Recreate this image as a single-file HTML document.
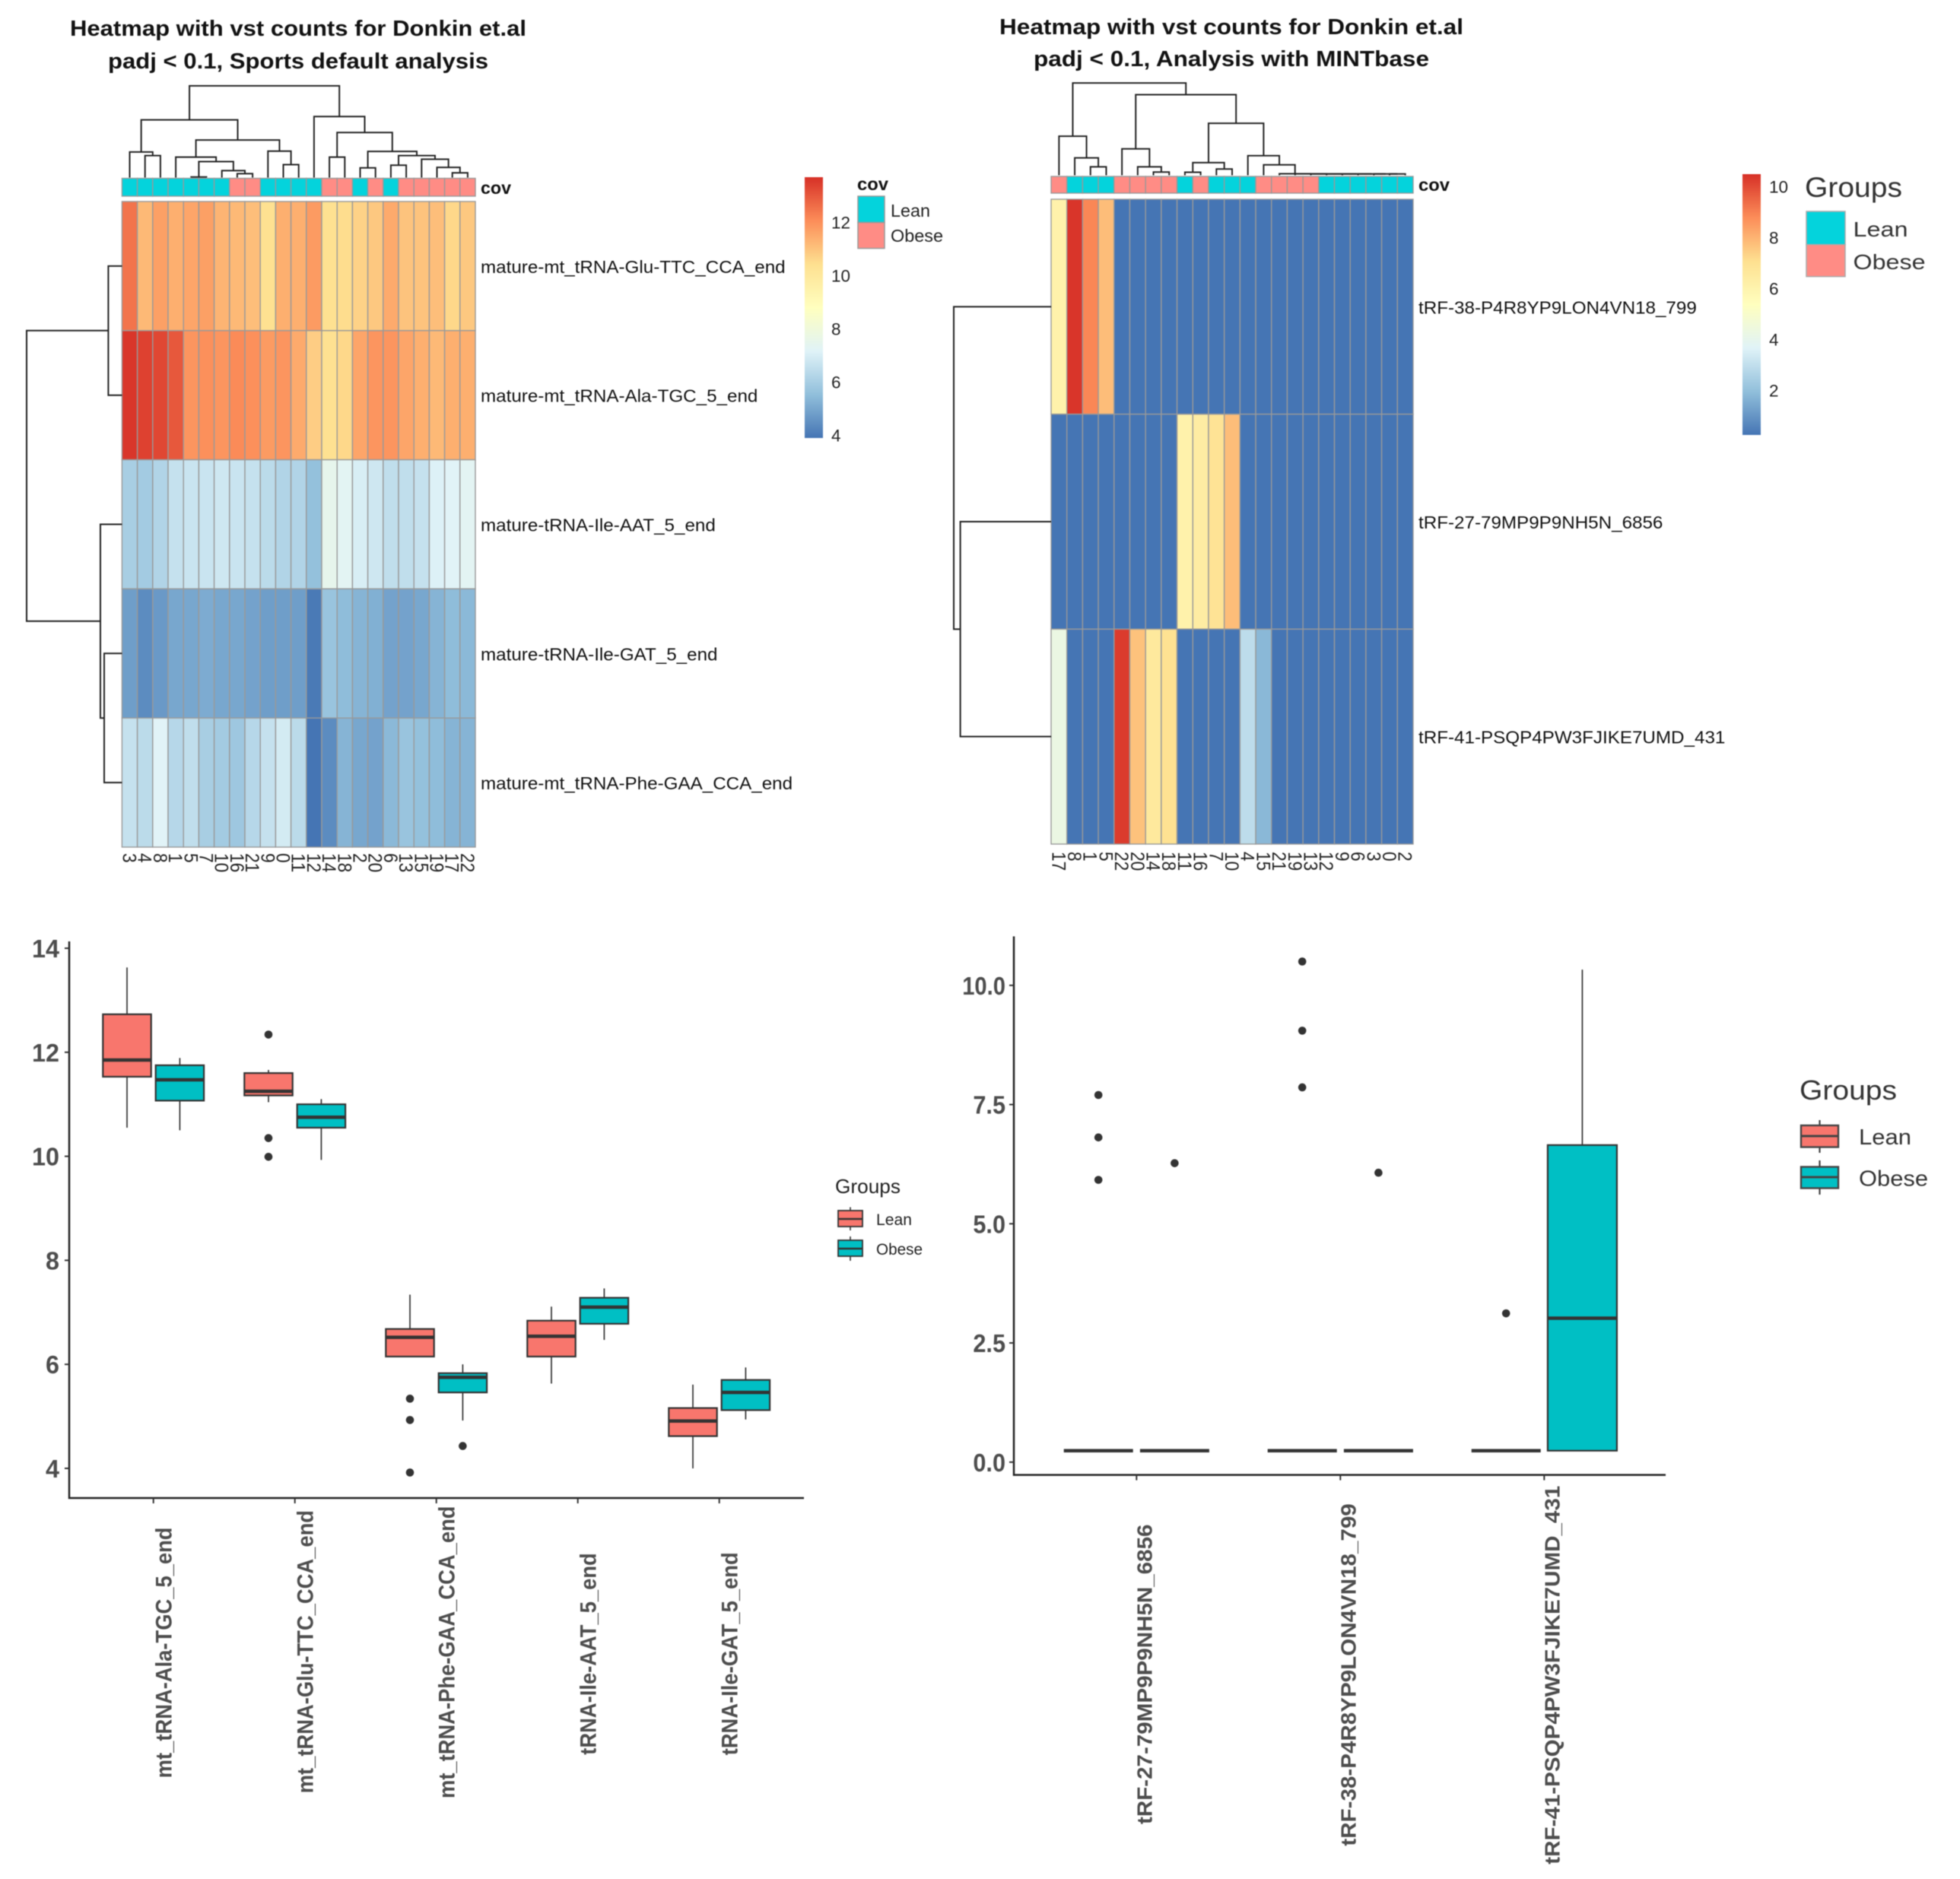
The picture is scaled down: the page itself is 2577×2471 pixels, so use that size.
<!DOCTYPE html>
<html lang="en">
<head>
<meta charset="utf-8">
<title>Heatmaps and boxplots of vst counts for Donkin et.al</title>
<style>
html,body{margin:0;padding:0;background:#fff;}
svg{display:block;font-family:"Liberation Sans",Arial,sans-serif;filter:blur(0.5px);}
</style>
</head>
<body>
<svg id="fig" xmlns="http://www.w3.org/2000/svg" width="2577" height="2471" viewBox="0 0 2577 2471">
<defs>
<linearGradient id="ramp" x1="0" y1="1" x2="0" y2="0"></linearGradient>
</defs>
<rect width="2577" height="2471" fill="#fff"/>

<text x="92" y="47" font-size="29" font-weight="700" fill="#111" textLength="600" lengthAdjust="spacingAndGlyphs">Heatmap with vst counts for Donkin et.al</text>
<text x="142" y="90" font-size="29" font-weight="700" fill="#111" textLength="500" lengthAdjust="spacingAndGlyphs">padj &lt; 0.1, Sports default analysis</text>
<text x="632" y="255" font-size="23" font-weight="700" fill="#111" textLength="40" lengthAdjust="spacingAndGlyphs">cov</text>
<text x="1127" y="250" font-size="23" font-weight="700" fill="#111" textLength="41" lengthAdjust="spacingAndGlyphs">cov</text>
<rect x="1128" y="258" width="35" height="34.6" fill="#04D3DC" stroke="#999" stroke-width="1.5"/>
<rect x="1128" y="292.6" width="35" height="34" fill="#FF8C85" stroke="#999" stroke-width="1.5"/>
<text x="1171" y="285" font-size="23" fill="#222" textLength="52" lengthAdjust="spacingAndGlyphs">Lean</text>
<text x="1171" y="318" font-size="23" fill="#222" textLength="69" lengthAdjust="spacingAndGlyphs">Obese</text>

<text x="1314" y="45" font-size="29" font-weight="700" fill="#111" textLength="610" lengthAdjust="spacingAndGlyphs">Heatmap with vst counts for Donkin et.al</text>
<text x="1359" y="87" font-size="29" font-weight="700" fill="#111" textLength="520" lengthAdjust="spacingAndGlyphs">padj &lt; 0.1, Analysis with MINTbase</text>
<text x="1865" y="251" font-size="23" font-weight="700" fill="#111" textLength="41" lengthAdjust="spacingAndGlyphs">cov</text>
<text x="2373" y="259" font-size="37" fill="#333" textLength="128" lengthAdjust="spacingAndGlyphs">Groups</text>
<rect x="2375" y="278" width="51" height="43.7" fill="#04D3DC" stroke="#aaa" stroke-width="1.5"/>
<rect x="2375" y="321.7" width="51" height="42" fill="#FF8C85" stroke="#aaa" stroke-width="1.5"/>
<text x="2436.5" y="311" font-size="28" fill="#333" textLength="72" lengthAdjust="spacingAndGlyphs">Lean</text>
<text x="2436.5" y="354" font-size="28" fill="#333" textLength="95" lengthAdjust="spacingAndGlyphs">Obese</text>

<text x="1098" y="1569" font-size="26" fill="#222" textLength="86" lengthAdjust="spacingAndGlyphs">Groups</text>
<line x1="1118" x2="1118" y1="1587.5" y2="1618" stroke="#333" stroke-width="1.6"/>
<rect x="1102" y="1592" width="32" height="21" fill="#F8766D" stroke="#333" stroke-width="1.8"/>
<line x1="1102" x2="1134" y1="1603" y2="1603" stroke="#333" stroke-width="2.5"/>
<line x1="1118" x2="1118" y1="1626" y2="1658" stroke="#333" stroke-width="1.6"/>
<rect x="1102" y="1631" width="32" height="21" fill="#00BFC4" stroke="#333" stroke-width="1.8"/>
<line x1="1102" x2="1134" y1="1642" y2="1642" stroke="#333" stroke-width="2.5"/>
<text x="1152" y="1611" font-size="21" fill="#222" textLength="47" lengthAdjust="spacingAndGlyphs">Lean</text>
<text x="1152" y="1650" font-size="21" fill="#222" textLength="61" lengthAdjust="spacingAndGlyphs">Obese</text>

<text x="2366" y="1446" font-size="36" fill="#333" textLength="128" lengthAdjust="spacingAndGlyphs">Groups</text>
<line x1="2392.5" x2="2392.5" y1="1473" y2="1516" stroke="#444" stroke-width="2.2"/>
<rect x="2368" y="1480" width="49" height="28.5" fill="#F8766D" stroke="#444" stroke-width="2.4"/>
<line x1="2368" x2="2417" y1="1494" y2="1494" stroke="#444" stroke-width="3"/>
<line x1="2392.5" x2="2392.5" y1="1526" y2="1571" stroke="#444" stroke-width="2.2"/>
<rect x="2368" y="1534.5" width="49" height="28" fill="#00BFC4" stroke="#444" stroke-width="2.4"/>
<line x1="2368" x2="2417" y1="1548" y2="1548" stroke="#444" stroke-width="3"/>
<text x="2444" y="1505" font-size="29" fill="#333" textLength="69" lengthAdjust="spacingAndGlyphs">Lean</text>
<text x="2444" y="1559.5" font-size="29" fill="#333" textLength="91" lengthAdjust="spacingAndGlyphs">Obese</text>
</svg>

<script>
// ---------- chart data ----------
const L = 0; // dendrogram leaf

const palette = ['#4575B4','#91BFDB','#E0F3F8','#FFFFBF','#FEE090','#FC8D59','#D73027'];

const heatAColumns = ['3','4','8','1','5','7','10','16','21','9','0','11','12','14','18','2','20','6','13','15','19','17','22'];
const heatARowLabels = ['mature-mt_tRNA-Glu-TTC_CCA_end','mature-mt_tRNA-Ala-TGC_5_end','mature-tRNA-Ile-AAT_5_end','mature-tRNA-Ile-GAT_5_end','mature-mt_tRNA-Phe-GAA_CCA_end'];
const heatAGroups = ['Lean','Lean','Lean','Lean','Lean','Lean','Lean','Obese','Obese','Lean','Lean','Lean','Lean','Obese','Obese','Lean','Obese','Lean','Obese','Obese','Obese','Obese','Obese'];
const heatAGlu = [12.5,11.2,11.7,11.4,11.6,11.7,11.3,11.2,11.1,10.4,11.4,11.4,11.8,10.4,10.5,10.7,10.9,11.5,11.0,11.0,11.1,10.6,10.9];
const heatAAla = [13.6,13.4,13.3,13.0,11.9,12.0,11.9,12.1,12.0,11.8,11.9,11.5,10.8,10.4,10.6,11.6,11.9,11.9,11.6,11.4,11.2,11.4,11.4];
const heatAAAT = [6.0,5.9,6.2,6.6,6.7,6.7,6.8,6.7,6.6,6.4,6.2,6.2,5.6,7.5,7.3,7.0,6.8,6.5,6.5,6.6,7.1,7.2,7.3];
const heatAGAT = [4.8,4.4,4.7,5.0,5.0,5.1,5.0,5.0,4.9,4.8,4.8,4.8,4.0,5.7,5.5,5.3,5.2,4.9,4.9,5.0,5.3,5.5,5.4];
const heatAPhe = [6.6,6.4,7.2,6.3,6.5,6.0,5.9,5.8,6.3,6.6,6.9,6.4,3.9,4.4,5.3,5.0,4.9,5.4,5.7,5.6,5.5,5.3,5.3];
const heatARange = [3.9,13.7];
const heatATicks = [4,6,8,10,12];
const colTreeA = [120.6,
  [75.9,
    [33.6,L,[28.9,L,L]],
    [49.4,
      [26.9,L,[21,[0.8,L,L],[9.1,L,[5.1,L,L]]]],
      [34.8,L,[17,L,L]]
    ]
  ],
  [80.3,L,
    [59.3,
      [26.9,L,L],
      [34.4,
        [12.7,L,L],
        [28.9,
          [16.2,L,L],
          [24.1,L,[13.4,L,[6.3,L,L]]]
        ]
      ]
    ]
  ]
];
const rowTreeA = [125.4,[18,L,L],[28.4,L,[23.4,L,L]]];

const heatBColumns = ['17','8','1','5','22','20','14','18','11','16','7','10','4','15','21','19','13','12','9','6','3','0','2'];
const heatBRowLabels = ['tRF-38-P4R8YP9LON4VN18_799','tRF-27-79MP9P9NH5N_6856','tRF-41-PSQP4PW3FJIKE7UMD_431'];
const heatBGroups = ['Obese','Lean','Lean','Lean','Obese','Obese','Obese','Obese','Lean','Obese','Lean','Lean','Lean','Obese','Obese','Obese','Obese','Lean','Lean','Lean','Lean','Lean','Lean'];
const heatB38 = [6.1,10.4,8.9,7.8,.25,.25,.25,.25,.25,.25,.25,.25,.25,.25,.25,.25,.25,.25,.25,.25,.25,.25,.25];
const heatB27 = [.25,.25,.25,.25,.25,.25,.25,.25,6.1,6.4,6.9,7.8,.25,.25,.25,.25,.25,.25,.25,.25,.25,.25,.25];
const heatB41 = [4.3,.25,.25,.25,10.3,7.7,6.6,7.0,.25,.25,.25,.25,2.9,1.8,.25,.25,.25,.25,.25,.25,.25,.25,.25];
const heatBRange = [0.25,10.5];
const heatBTicks = [2,4,6,8,10];
const colTreeB = [121.4,
  [51.4,L,[22.9,L,[11.1,L,L]]],
  [106,
    [34.8,L,[11.1,L,[4.3,L,L]]],
    [68.4,
      [16.6,[4,L,L],[8.3,L,L]],
      [25.7,L,[13.8,L,[2,L,[1.9,L,[1.8,L,[1.8,L,[1.8,L,[1.8,L,[1.8,L,[1.8,L,L]]]]]]]]]]
    ]
  ]
];
const rowTreeB = [128,L,[119.4,L,L]];

const boxACategories = ['mt_tRNA-Ala-TGC_5_end','mt_tRNA-Glu-TTC_CCA_end','mt_tRNA-Phe-GAA_CCA_end','tRNA-Ile-AAT_5_end','tRNA-Ile-GAT_5_end'];
const boxAYTicks = [4,6,8,10,12,14];
// each row: low whisker, Q1, median, Q3, high whisker
const boxALean = [[10.55,11.53,11.85,12.73,13.63],[11.04,11.17,11.25,11.6,11.66],[6.15,6.15,6.52,6.68,7.34],[5.63,6.15,6.54,6.84,7.11],[4.0,4.62,4.91,5.16,5.61]];
const boxAObese = [[10.5,11.07,11.47,11.75,11.89],[9.93,10.55,10.75,11.0,11.1],[4.92,5.46,5.75,5.83,6.0],[6.47,6.78,7.1,7.28,7.46],[4.94,5.12,5.46,5.7,5.94]];
const boxALeanOutliers = [[],[12.34,10.35,9.99],[5.34,4.93,3.92],[],[]];
const boxAObeseOutliers = [[],[],[4.43],[],[]];

const boxBCategories = ['tRF-27-79MP9P9NH5N_6856','tRF-38-P4R8YP9LON4VN18_799','tRF-41-PSQP4PW3FJIKE7UMD_431'];
const boxBYTicks = [0,2.5,5,7.5,10];
const boxBLean = [[.24,.24,.24,.24,.24],[.24,.24,.24,.24,.24],[.24,.24,.24,.24,.24]];
const boxBObese = [[.24,.24,.24,.24,.24],[.24,.24,.24,.24,.24],[.24,.24,3.02,6.65,10.33]];
const boxBLeanOutliers = [[7.7,6.81,5.92],[10.5,9.05,7.86],[3.12]];
const boxBObeseOutliers = [[6.27],[6.07],[]];

// ---------- helpers ----------
const NS = 'http://www.w3.org/2000/svg';
const svg = document.getElementById('fig');
function make(tag, attrs, parent) {
  const el = document.createElementNS(NS, tag);
  for (const k in attrs) el.setAttribute(k, attrs[k]);
  (parent || svg).appendChild(el);
  return el;
}
function hexRgb(h) { return [1,3,5].map(i => parseInt(h.substr(i,2),16)); }
function rampColor(v, range) {
  const t = Math.max(0, Math.min(1, (v - range[0]) / (range[1] - range[0]))) * (palette.length - 1);
  const i = Math.min(palette.length - 2, Math.floor(t));
  const a = hexRgb(palette[i]), b = hexRgb(palette[i + 1]), f = t - i;
  return 'rgb(' + a.map((c, j) => Math.round(c + (b[j] - c) * f)).join(',') + ')';
}
const grad = document.getElementById('ramp');
palette.forEach((c, i) => {
  make('stop', {offset: i / (palette.length - 1), 'stop-color': c}, grad);
});

const groupFill = {Lean: '#04D3DC', Obese: '#FF8C85'};

// Dendrogram: returns the position of a node along the leaf axis.
function drawTree(node, leafPos, hPos, vertical, counter, name) {
  if (node === L) {
    const p = leafPos(counter.i);
    counter.i += 1;
    return {p: p, h: 0};
  }
  const a = drawTree(node[1], leafPos, hPos, vertical, counter, name);
  const b = drawTree(node[2], leafPos, hPos, vertical, counter, name);
  const h = node[0];
  const d = vertical
    ? 'M' + a.p + ' ' + hPos(a.h) + 'V' + hPos(h) + 'H' + b.p + 'V' + hPos(b.h)
    : 'M' + hPos(a.h) + ' ' + a.p + 'H' + hPos(h) + 'V' + b.p + 'H' + hPos(b.h);
  const seg = make('path', {d: d, fill: 'none', stroke: '#222', 'stroke-width': 2});
  
  
  return {p: (a.p + b.p) / 2, h: h};
}

function drawHeatmap(cfg) {
  const n = cfg.columns.length;
  const cw = (cfg.right - cfg.left) / n;
  const colX = i => cfg.left + i * cw;
  const rh = (cfg.bottom - cfg.top) / cfg.rows.length;
  const rowY = r => cfg.top + r * rh;

  cfg.groups.forEach((g, i) => {
    const c = make('rect', {x: colX(i), y: cfg.annTop, width: cw, height: cfg.annBottom - cfg.annTop, fill: groupFill[g], stroke: '#999', 'stroke-width': 1.4});
    
    
  });

  cfg.rows.forEach((vals, r) => {
    vals.forEach((v, i) => {
      const c = make('rect', {x: colX(i), y: rowY(r), width: cw, height: rh, fill: rampColor(v, cfg.range), stroke: '#999', 'stroke-width': 1.4});
      
      
    });
  });

  cfg.rowLabels.forEach((s, r) => {
    const t = make('text', {transform: 'translate(' + (cfg.right + 7) + ',' + (rowY(r) + rh / 2 + 9) + ') scale(1.03,1)', 'font-size': 23.5, fill: '#111'});
    t.textContent = s;
    
    
  });

  cfg.columns.forEach((s, i) => {
    const t = make('text', {transform: 'translate(' + (colX(i) + cw / 2 - 9) + ',' + cfg.colLabelY + ') rotate(90)', 'font-size': 25, fill: '#222', textLength: s.length * 12.6, lengthAdjust: 'spacingAndGlyphs'});
    t.textContent = s;
    
    
  });

  drawTree(cfg.colTree, i => colX(i) + cw / 2, h => cfg.treeBase - h, true, {i: 0}, cfg.prefix + '-column-dendrogram');
  drawTree(cfg.rowTree, r => rowY(r) + rh / 2, h => cfg.left - h, false, {i: 0}, cfg.prefix + '-row-dendrogram');

  // colour bar
  const bar = cfg.bar;
  const barRect = make('rect', {x: bar.x, y: bar.top, width: bar.w, height: bar.bottom - bar.top, fill: 'url(#ramp)'});
  
  
  const barY = v => bar.bottom - (v - cfg.range[0]) / (cfg.range[1] - cfg.range[0]) * (bar.bottom - bar.top);
  cfg.ticks.forEach(v => {
    const t = make('text', {x: bar.x + bar.w + 11, y: barY(v) + 8, 'font-size': 22.5, fill: '#222', textLength: String(v).length * 12.5, lengthAdjust: 'spacingAndGlyphs'});
    t.textContent = v;
    
    
  });
}

function drawBoxplot(cfg) {
  const x = cfg.x, y = cfg.y;
  const ax = make('path', {d: 'M' + cfg.axisX + ' ' + cfg.axisTop + 'V' + cfg.axisY + 'H' + cfg.axisRight, fill: 'none', stroke: '#222', 'stroke-width': 2.5});
  
  

  cfg.yTicks.forEach(v => {
    const tick = make('line', {x1: cfg.axisX - 6, x2: cfg.axisX, y1: y(v), y2: y(v), stroke: '#333', 'stroke-width': 2});
    
    
    const s = cfg.yFormat(v);
    const t = make('text', {x: cfg.axisX - cfg.yGap - s.length * cfg.yCharW, y: y(v) + 12, 'font-size': 33, 'font-weight': 700, fill: '#4d4d4d', textLength: s.length * cfg.yCharW, lengthAdjust: 'spacingAndGlyphs'});
    t.textContent = s;
    
    
  });

  cfg.categories.forEach((s, i) => {
    const tick = make('line', {x1: x(i), x2: x(i), y1: cfg.axisY, y2: cfg.axisY + 7, stroke: '#333', 'stroke-width': 2});
    
    
    const t = make('text', {transform: 'translate(' + (x(i) + cfg.labelDx) + ',' + cfg.labelBottom[i] + ') rotate(-90) scale(' + cfg.labelScale + ',1)', 'font-size': cfg.labelSize, 'font-weight': 700, fill: '#4d4d4d'});
    t.textContent = s;
    
    
  });

  const series = [
    {stats: cfg.lean, out: cfg.leanOut, dx: -cfg.offset, fill: '#F8766D', name: 'lean'},
    {stats: cfg.obese, out: cfg.obeseOut, dx: cfg.offset, fill: '#00BFC4', name: 'obese'}
  ];
  series.forEach(sr => {
    sr.stats.forEach((st, i) => {
      const cx = x(i) + sr.dx;
      const w = make('line', {x1: cx, x2: cx, y1: y(st[0]), y2: y(st[4]), stroke: '#333', 'stroke-width': 1.7});
      
      
      const b = make('rect', {x: cx - cfg.half, y: y(st[3]), width: cfg.half * 2, height: y(st[1]) - y(st[3]), fill: sr.fill, stroke: '#333', 'stroke-width': 2.2});
      
      
      const m = make('line', {x1: cx - cfg.half, x2: cx + cfg.half, y1: y(st[2]), y2: y(st[2]), stroke: '#333', 'stroke-width': 4.5});
      
      
    });
    sr.out.forEach((list, i) => {
      list.forEach(v => {
        const d = make('circle', {cx: x(i) + sr.dx, cy: y(v), r: 5.3, fill: '#333'});
        
        
      });
    });
  });
}

// ---------- render ----------
drawHeatmap({
  prefix: 'heatmap-a', left: 160.4, right: 625, top: 265, bottom: 1114,
  annTop: 234.5, annBottom: 258, treeBase: 233.5, colLabelY: 1122,
  columns: heatAColumns, groups: heatAGroups, rowLabels: heatARowLabels,
  rows: [heatAGlu, heatAAla, heatAAAT, heatAGAT, heatAPhe],
  range: heatARange, ticks: heatATicks, colTree: colTreeA, rowTree: rowTreeA,
  bar: {x: 1058, w: 24, top: 233, bottom: 576}
});
drawHeatmap({
  prefix: 'heatmap-b', left: 1382, right: 1858, top: 262, bottom: 1110,
  annTop: 232, annBottom: 254, treeBase: 230.5, colLabelY: 1120,
  columns: heatBColumns, groups: heatBGroups, rowLabels: heatBRowLabels,
  rows: [heatB38, heatB27, heatB41],
  range: heatBRange, ticks: heatBTicks, colTree: colTreeB, rowTree: rowTreeB,
  bar: {x: 2291, w: 24, top: 229, bottom: 572}
});
drawBoxplot({
  prefix: 'boxplot-a', axisX: 91, axisTop: 1238, axisY: 1970, axisRight: 1057,
  x: i => 201.7 + 186 * i, y: v => 1931 - (v - 4) * 68.4,
  categories: boxACategories, yTicks: boxAYTicks, yFormat: v => String(v), yCharW: 18, yGap: 13,
  lean: boxALean, obese: boxAObese, leanOut: boxALeanOutliers, obeseOut: boxAObeseOutliers,
  offset: 34.7, half: 31.7, labelDx: 24, labelBottom: [2338.3, 2358.3, 2365, 2307.7, 2308.3],
  labelSize: 30, labelScale: 0.912
});
drawBoxplot({
  prefix: 'boxplot-b', axisX: 1333, axisTop: 1231.4, axisY: 1939.6, axisRight: 2190,
  x: i => 1494.3 + 268 * i, y: v => 1922.8 - 62.7 * v,
  categories: boxBCategories, yTicks: boxBYTicks, yFormat: v => v.toFixed(1), yCharW: 14.2, yGap: 11,
  lean: boxBLean, obese: boxBObese, leanOut: boxBLeanOutliers, obeseOut: boxBObeseOutliers,
  offset: 50.1, half: 45.5, labelDx: 20.4, labelBottom: [2399, 2427.6, 2451.7],
  labelSize: 27.5, labelScale: 1.076
});
</script>
</body>
</html>
